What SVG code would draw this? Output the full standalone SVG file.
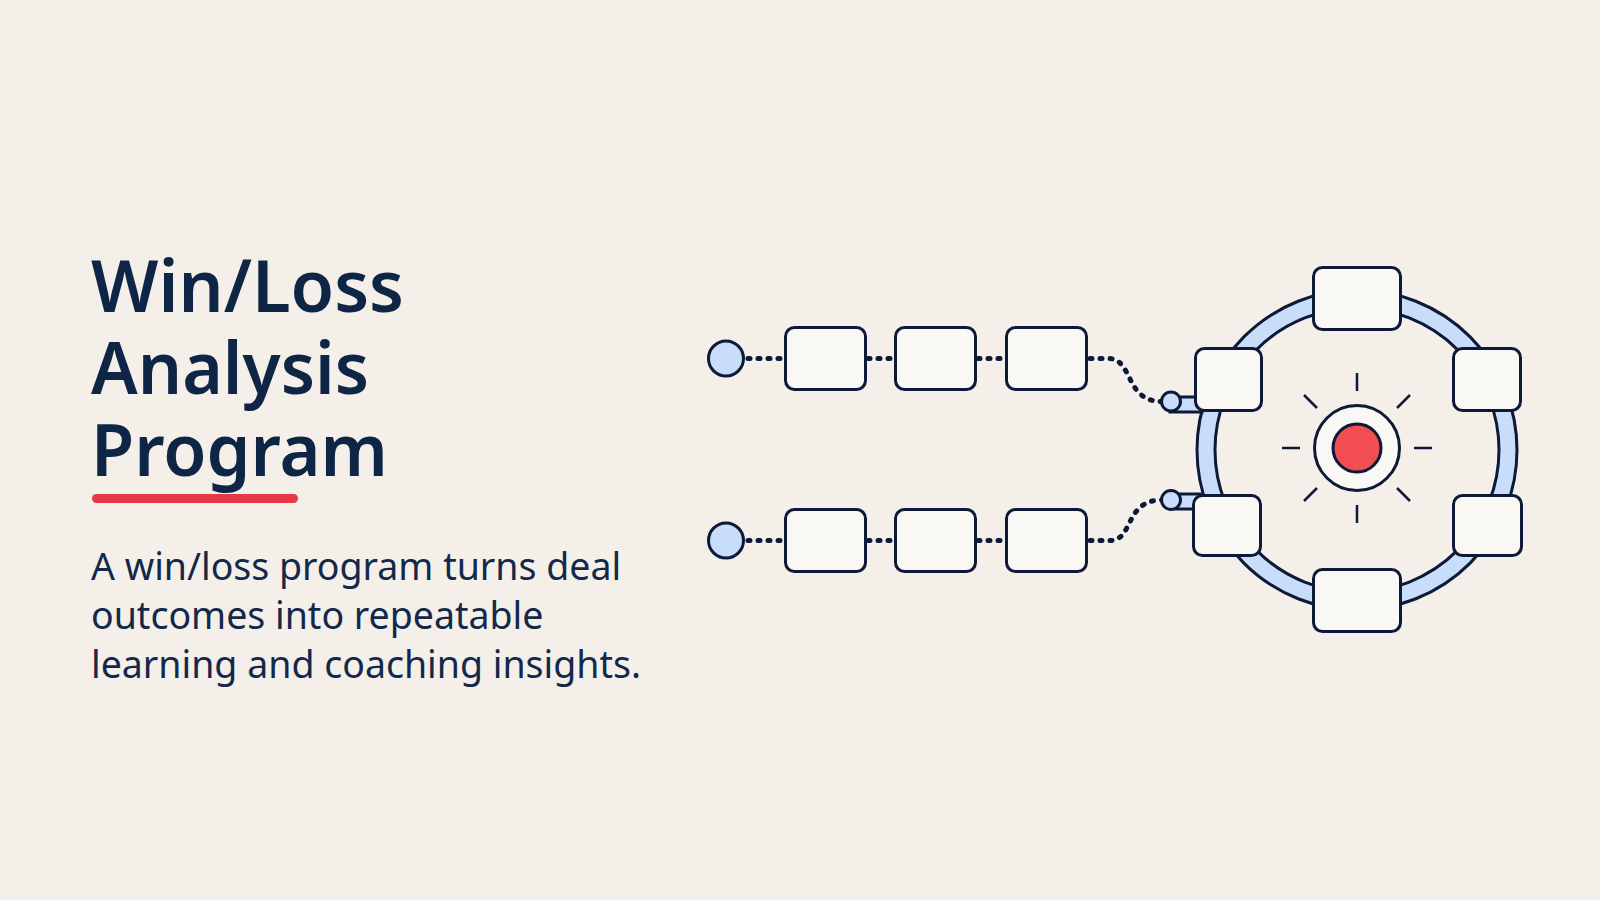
<svg xmlns="http://www.w3.org/2000/svg" width="1600" height="900" viewBox="0 0 1600 900">
  <style>
    .title { font-family: "Noto Sans", "Open Sans", "Liberation Sans", sans-serif; font-weight: 600; font-size: 73px; fill: #0F2545; }
    .body { font-family: "Noto Sans", "Open Sans", "Liberation Sans", sans-serif; font-weight: 400; font-size: 37.5px; fill: #13284A; }
    .box { fill: #FAF8F4; stroke: #0E1838; stroke-width: 3; }
    .dot { fill: #C7DDF9; stroke: #0E1838; stroke-width: 3; }
    .dots { fill: none; stroke: #0E1838; stroke-width: 5; stroke-linecap: round; stroke-dasharray: 2 8; }
    .ray { stroke: #0E1838; stroke-width: 2.5; stroke-linecap: butt; }
  </style>
  <rect width="1600" height="900" fill="#F4F0E9"/>

  <g id="title">
    <text class="title" x="91" y="312" textLength="313" lengthAdjust="spacingAndGlyphs">Win/Loss</text>
    <text class="title" x="91" y="394" textLength="278" lengthAdjust="spacingAndGlyphs">Analysis</text>
    <text class="title" x="91" y="476" textLength="297" lengthAdjust="spacingAndGlyphs">Program</text>
    <rect x="92" y="494" width="206" height="9" rx="4.5" fill="#E63946"/>
  </g>

  <g id="subtitle">
    <text class="body" x="91" y="580">A win/loss program turns deal</text>
    <text class="body" x="91" y="629">outcomes into repeatable</text>
    <text class="body" x="91" y="678">learning and coaching insights.</text>
  </g>

  <g id="connectors">
    <line class="dots" x1="748" y1="358.5" x2="786" y2="358.5"/>
    <line class="dots" x1="868" y1="358.5" x2="895" y2="358.5"/>
    <line class="dots" x1="978" y1="358.5" x2="1006" y2="358.5"/>
    <path class="dots" d="M1090 358.5 H1108 C1134 358.5 1124 401.5 1162 401.5"/>
    <line class="dots" x1="748" y1="540.5" x2="786" y2="540.5"/>
    <line class="dots" x1="868" y1="540.5" x2="895" y2="540.5"/>
    <line class="dots" x1="978" y1="540.5" x2="1006" y2="540.5"/>
    <path class="dots" d="M1090 540.5 H1110 C1134 540.5 1124 500 1162 500"/>
  </g>

  <g id="ring">
    <circle cx="1357" cy="450" r="151" fill="none" stroke="#0E1838" stroke-width="21"/>
    <circle cx="1357" cy="450" r="151" fill="none" stroke="#C7DDF9" stroke-width="15"/>
    <rect x="1170" y="397" width="32" height="15" fill="#C7DDF9" stroke="#0E1838" stroke-width="3"/>
    <rect x="1170" y="494" width="30" height="15" fill="#C7DDF9" stroke="#0E1838" stroke-width="3"/>
  </g>

  <g id="start-1"><circle class="dot" cx="726" cy="358.5" r="17.5"/></g>
  <g id="step-1-1"><rect class="box" x="785.5" y="327.5" width="80" height="62" rx="9"/></g>
  <g id="step-1-2"><rect class="box" x="895.5" y="327.5" width="80" height="62" rx="9"/></g>
  <g id="step-1-3"><rect class="box" x="1006.5" y="327.5" width="80" height="62" rx="9"/></g>

  <g id="start-2"><circle class="dot" cx="726" cy="540.5" r="17.5"/></g>
  <g id="step-2-1"><rect class="box" x="785.5" y="509.5" width="80" height="62" rx="9"/></g>
  <g id="step-2-2"><rect class="box" x="895.5" y="509.5" width="80" height="62" rx="9"/></g>
  <g id="step-2-3"><rect class="box" x="1006.5" y="509.5" width="80" height="62" rx="9"/></g>

  <g id="join-1"><circle class="dot" cx="1171" cy="401.5" r="9.5"/></g>
  <g id="join-2"><circle class="dot" cx="1171" cy="500" r="9.5"/></g>

  <g id="ring-top"><rect class="box" x="1313.5" y="267.5" width="87" height="62" rx="9"/></g>
  <g id="ring-upper-left"><rect class="box" x="1195.5" y="348.5" width="66" height="62" rx="9"/></g>
  <g id="ring-upper-right"><rect class="box" x="1453.5" y="348.5" width="67" height="62" rx="9"/></g>
  <g id="ring-lower-left"><rect class="box" x="1193.5" y="495.5" width="67" height="60" rx="9"/></g>
  <g id="ring-lower-right"><rect class="box" x="1453.5" y="495.5" width="68" height="60" rx="9"/></g>
  <g id="ring-bottom"><rect class="box" x="1313.5" y="569.5" width="87" height="62" rx="9"/></g>

  <g id="core">
    <g transform="translate(1357 448)">
      <line class="ray" x1="0" y1="-57" x2="0" y2="-75"/>
      <line class="ray" x1="0" y1="57" x2="0" y2="75"/>
      <line class="ray" x1="-57" y1="0" x2="-75" y2="0"/>
      <line class="ray" x1="57" y1="0" x2="75" y2="0"/>
      <line class="ray" x1="-40" y1="-40" x2="-53" y2="-53"/>
      <line class="ray" x1="40" y1="-40" x2="53" y2="-53"/>
      <line class="ray" x1="-40" y1="40" x2="-53" y2="53"/>
      <line class="ray" x1="40" y1="40" x2="53" y2="53"/>
      <circle cx="0" cy="0" r="42.5" fill="#FAF8F4" stroke="#0E1838" stroke-width="3"/>
      <circle cx="0" cy="0" r="24" fill="#F24E52" stroke="#0E1838" stroke-width="3"/>
    </g>
  </g>
</svg>
